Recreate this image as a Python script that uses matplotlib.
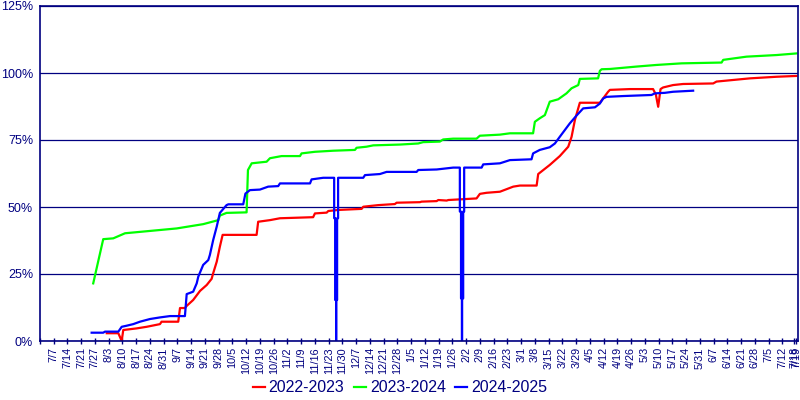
import matplotlib
matplotlib.use("Agg")
from matplotlib import pyplot as plt

# days since 7/1, value in percent
red_days = [34.0, 39.9, 41.6, 42.4, 49.2, 54.3, 61.1, 61.9, 70.4, 71.3, 73.8, 74.7,
            78.0, 81.5, 84.9, 87.4, 88.2, 90.0, 91.6, 93.0, 110.3, 111.1, 117.1,
            122.2, 130.7, 139.1, 140.0, 146.0, 146.8, 151.9, 163.8, 164.6, 172.2,
            180.7, 181.6, 193.5, 194.3, 202.0, 202.8, 207.1, 207.9, 222.3, 224.0,
            227.4, 234.2, 241.0, 244.4, 252.9, 253.7, 259.6, 264.7, 269.0, 270.7,
            272.4, 274.9, 285.1, 289.3, 290.2, 300.4, 312.2, 313.6, 314.8, 316.0,
            317.3, 322.4, 327.5, 342.8, 344.5, 353.0, 361.5, 375.1, 385.2]
red_vals = [2.9, 2.9, 0.0, 4.1, 4.7, 5.3, 6.3, 7.2, 7.2, 12.3, 12.3, 13.1,
            15.3, 18.7, 20.9, 23.2, 25.3, 29.6, 35.2, 39.6, 39.6, 44.5, 45.1,
            45.8, 46.0, 46.2, 47.6, 47.9, 48.5, 48.9, 49.3, 50.1, 50.7,
            51.1, 51.6, 51.8, 52.0, 52.2, 52.6, 52.4, 52.6, 53.2, 54.9,
            55.3, 55.7, 57.6, 58.0, 58.0, 62.3, 65.7, 69.0, 72.5, 76.2,
            82.5, 88.9, 88.9, 93.0, 93.7, 94.0, 94.0, 92.0, 87.4, 94.0,
            94.6, 95.5, 95.9, 96.1, 96.8, 97.4, 98.0, 98.6, 98.9]

green_days = [27.1, 32.2, 37.3, 43.3, 69.6, 83.1, 90.8, 91.6, 95.0, 105.2, 105.9,
              107.8, 115.4, 117.1, 123.0, 132.4, 133.2, 140.0, 149.3, 160.4, 161.2,
              166.3, 169.7, 183.3, 192.6, 195.1, 203.6, 205.3, 210.4, 222.3, 224.0,
              234.2, 239.3, 251.1, 252.0, 254.5, 257.1, 259.6, 263.9, 268.1, 270.7,
              274.1, 274.9, 284.2, 285.1, 286.0, 290.2, 303.8, 313.9, 326.7, 347.1,
              347.9, 359.8, 375.1, 385.2]
green_vals = [21.5, 38.0, 38.3, 40.2, 42.0, 43.6, 45.1, 46.8, 47.8, 48.0, 63.8,
              66.3, 66.9, 68.2, 69.0, 69.0, 70.0, 70.6, 71.0, 71.3, 72.1,
              72.5, 73.0, 73.3, 73.7, 74.2, 74.4, 75.2, 75.5, 75.5, 76.6,
              77.0, 77.5, 77.5, 81.8, 83.1, 84.3, 89.3, 90.2, 92.4, 94.3,
              95.5, 97.8, 98.0, 100.8, 101.4, 101.5, 102.4, 103.0, 103.6, 103.9,
              104.9, 106.1, 106.7, 107.3]

blue_days = [26.3, 32.2, 33.1, 39.9, 41.6, 44.1, 47.5, 50.9, 56.0, 61.1, 66.2, 73.8,
             74.7, 78.0, 79.8, 80.6, 83.1, 85.7, 86.5, 88.2, 90.0, 91.6, 95.0, 95.9,
             103.5, 104.6, 106.9, 112.0, 116.2, 121.3, 122.2, 137.5, 138.3, 144.2,
             149.8, 149.8, 150.3, 150.3, 150.8, 150.8, 150.8, 151.3, 151.3, 151.8, 151.8,
             164.6, 165.5, 173.1, 176.5, 191.8, 192.6, 202.0, 210.4,
             213.8, 213.8, 214.4, 214.4, 214.9, 214.9, 214.9, 215.5, 215.5, 216.0, 216.0,
             224.9, 225.7, 234.2, 239.3, 250.3, 251.1, 254.5, 259.6, 262.2, 264.7,
             269.8, 273.2, 276.6, 282.6, 285.1, 286.8, 288.5, 297.0, 311.4, 313.1,
             318.2, 322.4, 332.6]
blue_vals = [3.1, 3.1, 3.5, 3.5, 5.3, 5.7, 6.3, 7.2, 8.2, 8.8, 9.3, 9.3,
             17.5, 18.4, 21.5, 24.0, 28.4, 30.2, 32.1, 37.7, 42.7, 47.8, 50.7, 51.0,
             51.0, 55.0, 56.3, 56.5, 57.6, 57.8, 58.8, 58.8, 60.3, 60.9,
             60.9, 45.8, 45.8, 15.3, 15.3, 0.0, 15.3, 15.3, 45.8, 45.8, 60.9,
             60.9, 61.9, 62.3, 63.1, 63.1, 63.8, 64.0, 64.7,
             64.7, 48.3, 48.3, 15.9, 15.9, 0.0, 15.9, 15.9, 48.3, 48.3, 64.7,
             64.7, 65.9, 66.3, 67.5, 67.8, 70.0, 71.3, 72.3, 73.7, 76.2,
             81.2, 84.1, 86.8, 87.2, 88.6, 90.5, 91.1, 91.4, 91.8, 92.4,
             92.6, 93.0, 93.4]

tick_labels = ["", "7/7", "7/14", "7/21", "7/27", "8/3", "8/10", "8/17", "8/24", "8/31",
               "9/7", "9/14", "9/21", "9/28", "10/5", "10/12", "10/19", "10/26",
               "11/2", "11/9", "11/16", "11/23", "11/30", "12/7", "12/14", "12/21",
               "12/28", "1/5", "1/12", "1/19", "1/26", "2/2", "2/9", "2/16", "2/23",
               "3/1", "3/8", "3/15", "3/22", "3/29", "4/5", "4/12", "4/19", "4/26",
               "5/3", "5/10", "5/17", "5/24", "5/31", "6/7", "6/14", "6/21", "6/28",
               "7/5", "7/12"]
end_labels = ["7/18", "7/19"]
y_ticks = [0, 25, 50, 75, 100, 125]

navy = "#000080"
plt.rcParams["font.family"] = ["Liberation Sans", "DejaVu Sans"]

fig = plt.figure(figsize=(8, 4), dpi=100)
ax = fig.add_axes([0.05, 0.1475, 0.9475, 0.8375])

ax.plot(red_days, red_vals, color="#ff0000", lw=1.6, label="2022-2023")
ax.plot(green_days, green_vals, color="#00ff00", lw=1.6, label="2023-2024")
ax.plot(blue_days, blue_vals, color="#0000ff", lw=1.6, label="2024-2025")

ax.set_xlim(0, 386)
ax.set_ylim(0, 125)
ax.set_yticks(y_ticks)
ax.set_yticklabels([f"{v}%" for v in y_ticks], fontsize=9, color=navy)
xt = [7 * i for i in range(len(tick_labels))] + [384, 385]
ax.set_xticks(xt)
ax.set_xticklabels(tick_labels + end_labels, rotation=90, fontsize=7.8, color=navy)
ax.tick_params(axis="y", length=0, pad=5)
ax.tick_params(axis="x", direction="inout", length=5, color=navy, width=1, pad=2)
ax.grid(axis="y", color=navy, lw=0.9)
ax.set_axisbelow(True)
for s in ax.spines.values():
    s.set_color(navy)
    s.set_linewidth(1.2)

leg = fig.legend(loc="center", bbox_to_anchor=(0.5, 0.03), ncol=3, frameon=False,
                 fontsize=11.5, handlelength=0.75, handletextpad=0.25,
                 columnspacing=0.6)
for t in leg.get_texts():
    t.set_color(navy)

fig.savefig("out.png", dpi=100)
